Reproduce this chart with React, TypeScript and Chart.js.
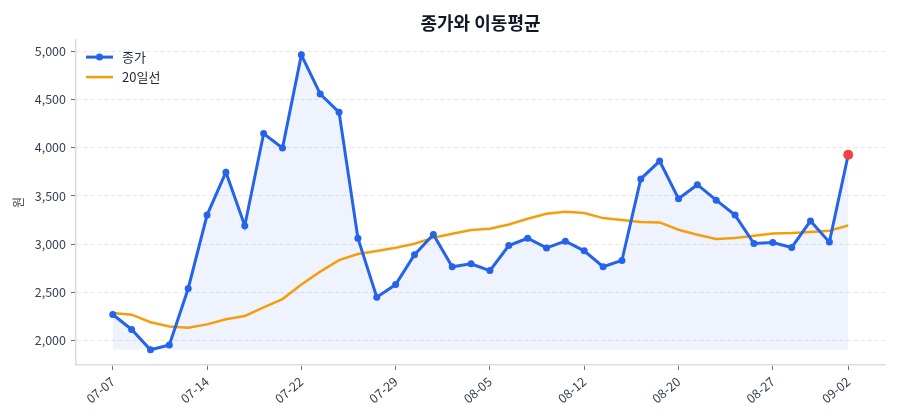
import { useEffect, useRef } from 'react';
import { Chart, registerables } from 'chart.js';

Chart.register(...registerables);

const dates = [
  '07-07', '07-08', '07-09', '07-10', '07-11',
  '07-14', '07-15', '07-16', '07-17', '07-18',
  '07-22', '07-23', '07-24', '07-25', '07-28',
  '07-29', '07-30', '07-31', '08-01', '08-04',
  '08-05', '08-06', '08-07', '08-08', '08-11',
  '08-12', '08-13', '08-14', '08-18', '08-19',
  '08-20', '08-21', '08-22', '08-25', '08-26',
  '08-27', '08-28', '08-29', '09-01', '09-02',
];

const closePrices = [
  2270, 2115, 1905, 1955, 2540, 3300, 3745, 3190, 4145, 3995,
  4960, 4555, 4365, 3060, 2450, 2580, 2890, 3100, 2765, 2795,
  2725, 2985, 3060, 2960, 3030, 2930, 2765, 2830, 3675, 3860,
  3470, 3615, 3455, 3300, 3005, 3015, 2965, 3240, 3020, 3925,
];

const ma20 = [
  2285, 2268, 2190, 2145, 2134, 2168, 2220, 2255, 2345, 2430,
  2582, 2714, 2834, 2897, 2928, 2962, 3003, 3066, 3107, 3145,
  3159, 3203, 3262, 3314, 3334, 3321, 3269, 3248, 3228, 3224,
  3148, 3097, 3052, 3062, 3086, 3110, 3114, 3124, 3138, 3193,
];

const xTickIndex = [0, 5, 10, 15, 20, 25, 30, 35, 39];
const yTicks = [2000, 2500, 3000, 3500, 4000, 4500, 5000];

const BLUE = '#2563EB';
const ORANGE = '#F59E0B';
const RED = '#EF4444';
const FONT = "'Noto Sans CJK KR', 'Noto Sans', sans-serif";

// legend drawn inside the plot, top-left, no frame
const innerLegend = {
  id: 'innerLegend',
  afterDraw(chart: Chart) {
    const { ctx, chartArea } = chart;
    const x0 = chartArea.left + 10;
    const x1 = chartArea.left + 37;
    const rows = [
      { label: '종가', color: BLUE, width: 3, dot: true },
      { label: '20일선', color: ORANGE, width: 2.5, dot: false },
    ];
    ctx.save();
    rows.forEach((r, i) => {
      const y = chartArea.top + 17 + i * 20;
      ctx.strokeStyle = r.color;
      ctx.lineWidth = r.width;
      ctx.beginPath();
      ctx.moveTo(x0, y);
      ctx.lineTo(x1, y);
      ctx.stroke();
      if (r.dot) {
        ctx.fillStyle = r.color;
        ctx.beginPath();
        ctx.arc((x0 + x1) / 2, y, 3.5, 0, Math.PI * 2);
        ctx.fill();
      }
      ctx.fillStyle = '#1F2937';
      ctx.font = `13px ${FONT}`;
      ctx.textBaseline = 'middle';
      ctx.textAlign = 'left';
      ctx.fillText(r.label, x1 + 9, y);
    });
    ctx.restore();
  },
};

function PriceChart() {
  const chartRef = useRef<HTMLCanvasElement>(null);
  const chartInstance = useRef<Chart | null>(null);

  useEffect(() => {
    if (!chartRef.current) return;
    if (chartInstance.current) chartInstance.current.destroy();

    Chart.defaults.font.family = FONT;

    const last = closePrices.length - 1;
    const fillBase = Math.min(...closePrices);

    chartInstance.current = new Chart(chartRef.current, {
      type: 'line',
      data: {
        datasets: [
          {
            label: '종가',
            data: closePrices.map((v, i) => ({ x: i, y: v })),
            borderColor: BLUE,
            borderWidth: 3,
            backgroundColor: 'rgba(37, 99, 235, 0.08)',
            fill: { value: fillBase },
            tension: 0,
            pointRadius: closePrices.map((_, i) => (i === last ? 5 : 3.5)),
            pointBackgroundColor: closePrices.map((_, i) => (i === last ? RED : BLUE)),
            pointBorderColor: closePrices.map((_, i) => (i === last ? RED : BLUE)),
            pointBorderWidth: 0,
          },
          {
            label: '20일선',
            data: ma20.map((v, i) => ({ x: i, y: v })),
            borderColor: ORANGE,
            borderWidth: 2.5,
            fill: false,
            tension: 0,
            pointRadius: 0,
          },
        ],
      },
      options: {
        animation: false,
        responsive: true,
        maintainAspectRatio: false,
        events: [],
        layout: { padding: { left: 0, right: 15, top: 0, bottom: 0 } },
        plugins: {
          legend: { display: false },
          tooltip: { enabled: false },
          filler: { drawTime: 'beforeDatasetsDraw' },
          title: {
            display: true,
            text: '종가와 이동평균',
            fullSize: false,
            color: '#111827',
            font: { size: 18, weight: 'bold' },
            padding: { top: 12, bottom: 6.5 },
          },
        },
        scales: {
          x: {
            type: 'linear',
            min: -1.95,
            max: last + 1.95,
            afterBuildTicks: (scale: any) => {
              scale.ticks = xTickIndex.map((v) => ({ value: v }));
            },
            afterFit: (scale: any) => {
              scale.height = 55;
            },
            ticks: {
              autoSkip: false,
              minRotation: 40,
              maxRotation: 40,
              color: '#374151',
              font: { size: 12.5 },
              padding: 4,
              callback: (v: any) => dates[v as number] ?? '',
            },
            grid: {
              drawOnChartArea: false,
              drawTicks: true,
              tickLength: 5,
              tickColor: '#6B7280',
            },
            border: { color: '#D9DDE3', width: 1.5 },
          },
          y: {
            min: 1747,
            max: 5113,
            afterBuildTicks: (scale: any) => {
              scale.ticks = yTicks.map((v) => ({ value: v }));
            },
            afterFit: (scale: any) => {
              scale.width = 76;
            },
            ticks: {
              color: '#374151',
              font: { size: 12.5 },
              padding: 5,
              callback: (v: any) => Number(v).toLocaleString('en-US'),
            },
            grid: {
              color: '#E5E7EB',
              lineWidth: 1,
              drawTicks: true,
              tickLength: 5,
              tickColor: '#6B7280',
            },
            border: { color: '#D9DDE3', width: 1.5, dash: [4, 3] },
            title: {
              display: true,
              text: '원',
              color: '#374151',
              font: { size: 12 },
              padding: { top: 11, bottom: 0 },
            },
          },
        },
      },
      plugins: [innerLegend],
    } as any);

    return () => {
      if (chartInstance.current) {
        chartInstance.current.destroy();
        chartInstance.current = null;
      }
    };
  }, []);

  return (
    <div style={{ position: 'fixed', left: 0, top: 0, width: 900, height: 420, background: '#fff' }}>
      <canvas ref={chartRef} />
    </div>
  );
}

export default function App() {
  return <PriceChart />;
}
